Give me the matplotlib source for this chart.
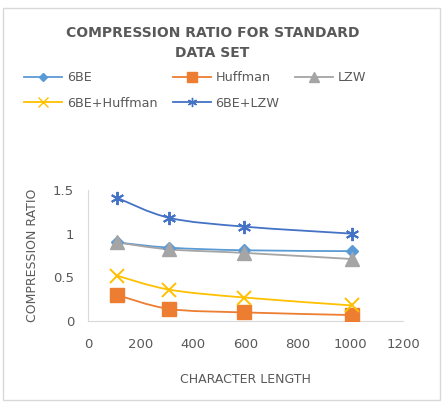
import numpy as np
import matplotlib.pyplot as plt
from matplotlib.path import Path
from matplotlib.patches import PathPatch, Rectangle
from matplotlib.lines import Line2D

# data
char_length = [110, 310, 595, 1005]
ratio_6be = [0.90, 0.84, 0.81, 0.80]
ratio_huffman = [0.30, 0.14, 0.10, 0.07]
ratio_lzw = [0.90, 0.82, 0.78, 0.71]
ratio_6be_huffman = [0.52, 0.36, 0.27, 0.18]
ratio_6be_lzw = [1.41, 1.18, 1.08, 1.00]

series_names = ["6BE", "Huffman", "LZW", "6BE+Huffman", "6BE+LZW"]
x_ticks = [0, 200, 400, 600, 800, 1000, 1200]
y_ticks = [0, 0.5, 1, 1.5]
y_tick_labels = ["0", "0.5", "1", "1.5"]

colors = ["#5B9BD5", "#ED7D31", "#A5A5A5", "#FFC000", "#4472C4"]
markers = ["D", "s", "^", "x", (6, 2, 0)]
msizes = [6, 9.5, 9.5, 9.5, 9.5]
text_grey = "#595959"


def smooth_path(xs, ys, t=1 / 6):
    # Catmull-Rom style bezier, like Excel's smoothed lines
    xs = np.asarray(xs, float)
    ys = np.asarray(ys, float)
    px = np.concatenate([[xs[0]], xs, [xs[-1]]])
    py = np.concatenate([[ys[0]], ys, [ys[-1]]])
    verts = [(xs[0], ys[0])]
    codes = [Path.MOVETO]
    for i in range(1, len(xs)):
        c1 = (px[i] + (px[i + 1] - px[i - 1]) * t, py[i] + (py[i + 1] - py[i - 1]) * t)
        c2 = (px[i + 1] - (px[i + 2] - px[i]) * t, py[i + 1] - (py[i + 2] - py[i]) * t)
        verts += [c1, c2, (xs[i], ys[i])]
        codes += [Path.CURVE4] * 3
    return Path(verts, codes)


fig = plt.figure(figsize=(4.47, 4.04), dpi=100)
fig.patches.append(Rectangle((3 / 447, 4 / 404), 437 / 447, 392 / 404,
                             transform=fig.transFigure, fill=False,
                             edgecolor="#D9D9D9", linewidth=1))

ax = fig.add_axes([0.197, 0.205, 0.705, 0.325])

all_series = [ratio_6be, ratio_huffman, ratio_lzw, ratio_6be_huffman, ratio_6be_lzw]
handles = []
for name, vals, c, m, ms in zip(series_names, all_series, colors, markers, msizes):
    ax.add_patch(PathPatch(smooth_path(char_length, vals), fill=False,
                           edgecolor=c, linewidth=1.3, zorder=2))
    ax.plot(char_length, vals, linestyle="none", marker=m, markersize=ms,
            color=c, markeredgewidth=1.4 if m in ("x", (6, 2, 0)) else 1, zorder=3)
    handles.append(Line2D([], [], color=c, linewidth=1.3, marker=m,
                          markersize=ms * 0.7, label=name))

ax.set_xlim(0, 1200)
ax.set_ylim(0, 1.5)
ax.set_xticks(x_ticks)
ax.set_yticks(y_ticks)
ax.set_yticklabels(y_tick_labels)
ax.tick_params(axis="x", length=0, labelsize=9.5, colors=text_grey, pad=12)
ax.tick_params(axis="y", length=0, labelsize=9.5, colors=text_grey, pad=10)
for s in ["top", "right"]:
    ax.spines[s].set_visible(False)
for s in ["left", "bottom"]:
    ax.spines[s].set_color("#D9D9D9")

ax.set_xlabel("CHARACTER LENGTH", fontsize=9, color=text_grey, labelpad=16)
ax.set_ylabel("COMPRESSION RATIO", fontsize=9, color=text_grey, labelpad=10)

fig.text(0.475, 0.893, "COMPRESSION RATIO FOR STANDARD\nDATA SET",
         ha="center", va="center", fontsize=10, fontweight="bold",
         color=text_grey, linespacing=1.55)

order = [0, 3, 1, 4, 2]
fig.legend([handles[i] for i in order], [series_names[i] for i in order],
           ncol=3, loc="center left", bbox_to_anchor=(0.028, 0.776),
           frameon=False, fontsize=9.2, labelcolor=text_grey,
           handlelength=3, handletextpad=0.35, columnspacing=1.2,
           labelspacing=1.0)

fig.savefig("out.png", dpi=100)
